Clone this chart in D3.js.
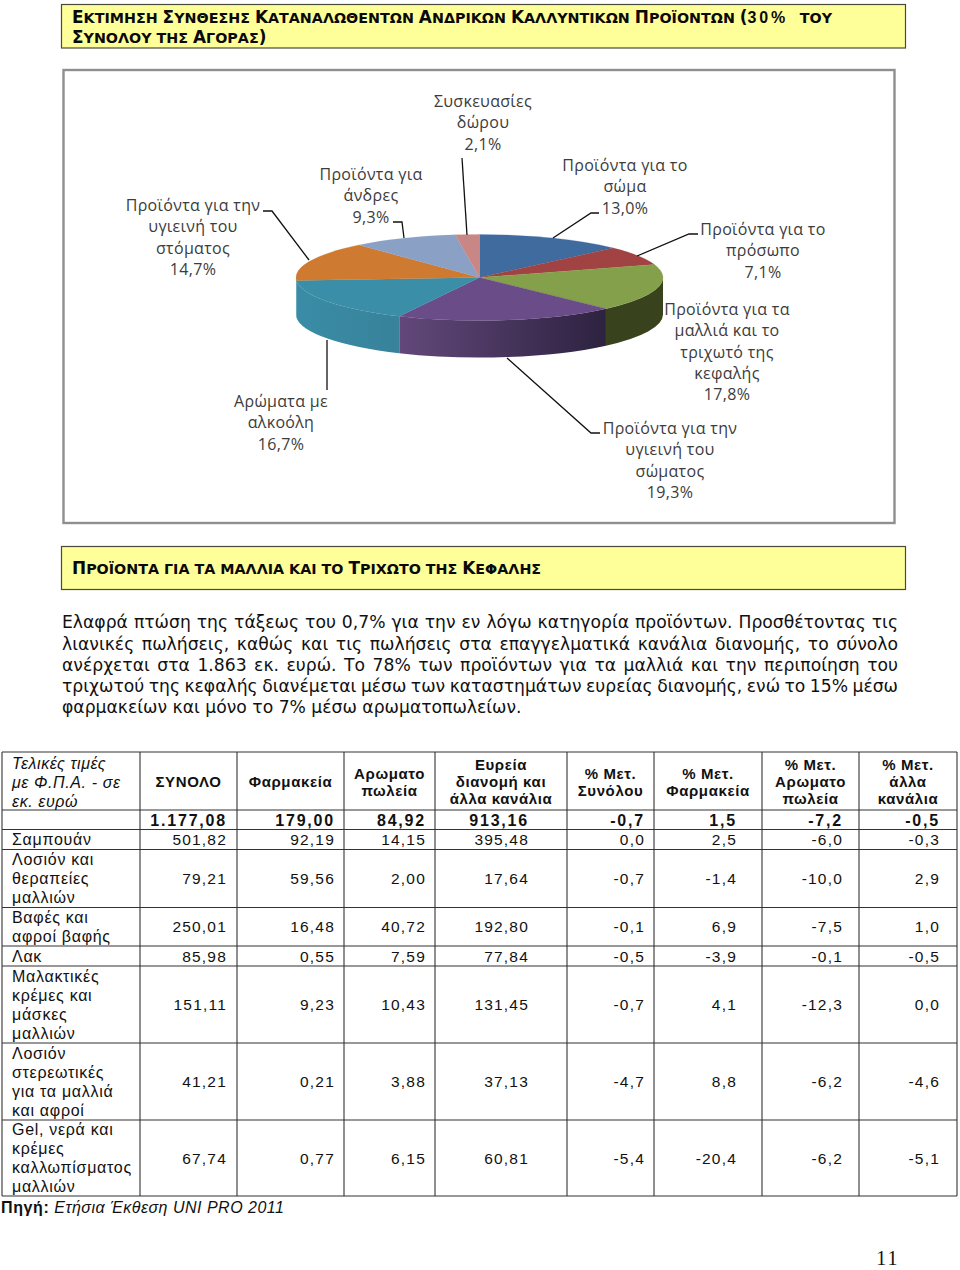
<!DOCTYPE html>
<html><head><meta charset="utf-8">
<script src="https://cdn.jsdelivr.net/npm/d3@7/dist/d3.min.js"></script>
<style>html,body{margin:0;padding:0;background:#fff}svg{display:block}</style></head>
<body><div id="c"></div>
<script>
// ---------- data ----------
const sliceNames = ["Προϊόντα για το σώμα","Προϊόντα για το πρόσωπο","Προϊόντα για τα μαλλιά και το τριχωτό της κεφαλής","Προϊόντα για την υγιεινή του σώματος","Αρώματα με αλκοόλη","Προϊόντα για την υγιεινή του στόματος","Προϊόντα για άνδρες","Συσκευασίες δώρου"];
const sliceValues = [13.0,7.1,17.8,19.3,16.7,14.7,9.3,2.1];
const sliceLabelLines = [
 ["Προϊόντα για το","σώμα","13,0%"],
 ["Προϊόντα για το","πρόσωπο","7,1%"],
 ["Προϊόντα για τα","μαλλιά και το","τριχωτό της","κεφαλής","17,8%"],
 ["Προϊόντα για την","υγιεινή του","σώματος","19,3%"],
 ["Αρώματα με","αλκοόλη","16,7%"],
 ["Προϊόντα για την","υγιεινή του","στόματος","14,7%"],
 ["Προϊόντα για","άνδρες","9,3%"],
 ["Συσκευασίες","δώρου","2,1%"]];
const title1 = [["Ε",1],["ΚΤΙΜΗΣΗ ",0],["Σ",1],["ΥΝΘΕΣΗΣ ",0],["Κ",1],["ΑΤΑΝΑΛΩΘΕΝΤΩΝ ",0],["Α",1],["ΝΔΡΙΚΩΝ ",0],["Κ",1],["ΑΛΛΥΝΤΙΚΩΝ ",0],["Π",1],["ΡΟΪΟΝΤΩΝ ",0],["(",1],["30%",2],["  ",1],["ΤΟΥ",0]];
const title2 = [["Σ",1],["ΥΝΟΛΟΥ ΤΗΣ ",0],["Α",1],["ΓΟΡΑΣ",0],[")",1]];
const title3 = [["Π",1],["ΡΟΪΟΝΤΑ ΓΙΑ ΤΑ ΜΑΛΛΙΑ ΚΑΙ ΤΟ ",0],["Τ",1],["ΡΙΧΩΤΟ ΤΗΣ ",0],["Κ",1],["ΕΦΑΛΗΣ",0]];
const bodyLines = [
 "Ελαφρά πτώση της τάξεως του 0,7% για την εν λόγω κατηγορία προϊόντων. Προσθέτοντας τις",
 "λιανικές πωλήσεις, καθώς και τις πωλήσεις στα επαγγελματικά κανάλια διανομής, το σύνολο",
 "ανέρχεται στα 1.863 εκ. ευρώ. Το 78% των προϊόντων για τα μαλλιά και την περιποίηση του",
 "τριχωτού της κεφαλής διανέμεται μέσω των καταστημάτων ευρείας διανομής, ενώ το 15% μέσω",
 "φαρμακείων και μόνο το 7% μέσω αρωματοπωλείων."];
const headCorner = ["Τελικές τιμές","με Φ.Π.Α. - σε","εκ. ευρώ"];
const headCols = [["ΣΥΝΟΛΟ"],["Φαρμακεία"],["Αρωματο","πωλεία"],["Ευρεία","διανομή και","άλλα κανάλια"],["% Μετ.","Συνόλου"],["% Μετ.","Φαρμακεία"],["% Μετ.","Αρωματο","πωλεία"],["% Μετ.","άλλα","κανάλια"]];
const totalRow = ["1.177,08","179,00","84,92","913,16","-0,7","1,5","-7,2","-0,5"];
const rowNames = [["Σαμπουάν"],["Λοσιόν και","θεραπείες","μαλλιών"],["Βαφές και","αφροί βαφής"],["Λακ"],["Μαλακτικές","κρέμες και","μάσκες","μαλλιών"],["Λοσιόν","στερεωτικές","για τα μαλλιά","και αφροί"],["Gel, νερά και","κρέμες","καλλωπίσματος","μαλλιών"]];
const rowValues = [
 ["501,82","92,19","14,15","395,48","0,0","2,5","-6,0","-0,3"],
 ["79,21","59,56","2,00","17,64","-0,7","-1,4","-10,0","2,9"],
 ["250,01","16,48","40,72","192,80","-0,1","6,9","-7,5","1,0"],
 ["85,98","0,55","7,59","77,84","-0,5","-3,9","-0,1","-0,5"],
 ["151,11","9,23","10,43","131,45","-0,7","4,1","-12,3","0,0"],
 ["41,21","0,21","3,88","37,13","-4,7","8,8","-6,2","-4,6"],
 ["67,74","0,77","6,15","60,81","-5,4","-20,4","-6,2","-5,1"]];

// ---------- styling & layout ----------
const topColors = ["#3f6b9f","#a04342","#84a04a","#6a4c89","#3b8ea7","#ce7a30","#8aa1c5","#c88684"];
const wallColors = [null,null,["#38431e","#38431e"],["#62487a","#2d2240"],["#3a8ca6","#38829b"],["#3a8ca6","#3a8ca6"],null,null];
const W=960,H=1270;
const pie3d={cx:479.5,cy:277.5,rx:183.5,ry:43,depth:37};
const labelAnchors=[[625,171],[763,235],[727,315],[670,434],[281,407],[193,211],[371,180],[483,107]];
const leaders=[
 [[599,213],[591,213],[553,238]],
 [[698,234],[689,234],[637,256]],
 [],
 [[600,433],[591,433],[507,358]],
 [[327,340],[327,390]],
 [[263,211],[272,211],[309,260]],
 [[393,222],[402,222],[404,238]],
 [[462,158],[467,235]]];
const colX=[2,140,237,344,435,567,654,762,859,957];
const rowY=[752,810,829.5,849.5,907.5,946,966,1043,1120,1196];
const numRight=[227,335,426,529,645,737,843,940];
const serif='"Liberation Serif",serif', sans='"Liberation Sans",Arial,sans-serif', verd='"DejaVu Sans",Verdana,sans-serif', chartFont='"Open Sans",sans-serif';

const svg=d3.select("#c").append("svg").attr("width",W).attr("height",H).attr("viewBox",`0 0 ${W} ${H}`);
svg.append("rect").attr("width",W).attr("height",H).attr("fill","#fff");
const defs=svg.append("defs");

function banner(x0,y0,x1,y1){svg.append("rect").attr("x",x0).attr("y",y0).attr("width",x1-x0).attr("height",y1-y0).attr("fill","#ffff99").attr("stroke","#4a4a3a").attr("stroke-width",1.2);}
function caps(segs,x,y){
  const t=svg.append("text").attr("x",x).attr("y",y).attr("font-family",verd).attr("font-weight","bold").attr("fill","#0a0a0a").style("white-space","pre");
  t.selectAll("tspan").data(segs).join("tspan")
   .attr("font-size",d=>d[1]===2?16:(d[1]?16.9:14.3))
   .attr("font-family",d=>d[1]===2?sans:verd)
   .attr("letter-spacing",d=>d[1]===2?2.8:0)
   .text(d=>d[0]);
}
banner(61.5,4.5,905.5,48);
caps(title1,72,23); caps(title2,72,43);
banner(61.5,546.5,905.5,589.5);
caps(title3,72,574);

// chart frame
svg.append("rect").attr("x",63.5).attr("y",70).attr("width",831).attr("height",453).attr("fill","#fff").attr("stroke","#8f8f8f").attr("stroke-width",2.4);

// 3D pie
const angleOf=d3.pie().sort(null).value(d=>d)(sliceValues);
const px=a=>pie3d.cx+pie3d.rx*Math.sin(a), py=a=>pie3d.cy-pie3d.ry*Math.cos(a);
const walls=svg.append("g");
angleOf.forEach((s,i)=>{
  const a0=Math.max(s.startAngle,Math.PI/2), a1=Math.min(s.endAngle,3*Math.PI/2);
  if(a1<=a0||!wallColors[i])return;
  const id="w"+i;
  const xs=[px(a0),px(a1)];
  const g=defs.append("linearGradient").attr("id",id).attr("gradientUnits","userSpaceOnUse").attr("x1",d3.min(xs)).attr("x2",d3.max(xs)).attr("y1",0).attr("y2",0);
  g.append("stop").attr("offset",0).attr("stop-color",wallColors[i][0]);
  g.append("stop").attr("offset",1).attr("stop-color",wallColors[i][1]);
  const dp=`M${px(a0)},${py(a0)}A${pie3d.rx},${pie3d.ry} 0 0 1 ${px(a1)},${py(a1)}L${px(a1)},${py(a1)+pie3d.depth}A${pie3d.rx},${pie3d.ry} 0 0 0 ${px(a0)},${py(a0)+pie3d.depth}Z`;
  walls.append("path").attr("d",dp).attr("fill",`url(#${id})`);
});
const arc=d3.arc().innerRadius(0).outerRadius(pie3d.rx);
svg.append("g").attr("transform",`translate(${pie3d.cx},${pie3d.cy}) scale(1,${pie3d.ry/pie3d.rx})`)
  .selectAll("path").data(angleOf).join("path").attr("d",arc).attr("fill",(d,i)=>topColors[i]).attr("stroke",(d,i)=>topColors[i]).attr("stroke-width",0.4);

// leaders
svg.append("g").selectAll("path").data(leaders.filter(l=>l.length)).join("path")
  .attr("d",d3.line()).attr("fill","none").attr("stroke","#111").attr("stroke-width",1.3);
// slice labels
sliceLabelLines.forEach((lines,i)=>{
  const g=svg.append("g");
  g.selectAll("text").data(lines).join("text")
   .attr("x",labelAnchors[i][0]).attr("y",(d,j)=>labelAnchors[i][1]+j*21.3)
   .attr("text-anchor","middle").attr("font-family",chartFont).attr("font-size",16).attr("letter-spacing",0.3).attr("fill","#3c3c3c").text(d=>d);
});

// body text
const bodyY=[628,650,671,692,713];
bodyLines.forEach((l,i)=>{
  const t=svg.append("text").attr("x",62).attr("y",bodyY[i]).attr("font-family",verd).attr("font-size",17.2).attr("fill","#111").text(l);
  if(i<bodyLines.length-1){
    const len=t.node().getComputedTextLength(), n=l.split(" ").length-1;
    t.attr("word-spacing",(898-62-len)/n);
  }
});

// table grid
const grid=svg.append("g").attr("stroke","#333").attr("stroke-width",1.1);
rowY.forEach(y=>grid.append("line").attr("x1",colX[0]).attr("x2",colX[9]).attr("y1",y).attr("y2",y));
colX.forEach(x=>grid.append("line").attr("x1",x).attr("x2",x).attr("y1",rowY[0]).attr("y2",rowY[9]));
// header
svg.append("g").selectAll("text").data(headCorner).join("text").attr("x",12).attr("y",(d,i)=>769+i*19)
  .attr("font-family",sans).attr("font-style","italic").attr("font-size",16).attr("letter-spacing",0.6).attr("fill","#111").text(d=>d);
headCols.forEach((lines,c)=>{
  const cx=(colX[c+1]+colX[c+2])/2, top=787-(lines.length-1)*17/2;
  svg.append("g").selectAll("text").data(lines).join("text").attr("x",cx).attr("y",(d,i)=>top+i*17)
   .attr("text-anchor","middle").attr("font-family",sans).attr("font-weight","bold").attr("font-size",15).attr("letter-spacing",0.6).attr("fill","#111").text(d=>d);
});
// numbers
function numRow(vals,cy,bold){
  vals.forEach((v,c)=>{
    svg.append("text").attr("x",numRight[c]).attr("y",cy+5.5).attr("text-anchor","end").attr("font-family",sans)
     .attr("font-weight",bold?"bold":"normal").attr("font-size",bold?16:15.5).attr("letter-spacing",bold?1.8:1.2).attr("fill","#111").text(v);
  });
}
numRow(totalRow,820.5,true);
rowValues.forEach((vals,r)=>{
  const y0=rowY[r+2],y1=rowY[r+3],cy=(y0+y1)/2;
  numRow(vals,cy,false);
  const n=rowNames[r];
  svg.append("g").selectAll("text").data(n).join("text").attr("x",12).attr("y",(d,i)=>cy+5.5-(n.length-1)*19/2+i*19)
   .attr("font-family",sans).attr("font-size",16).attr("letter-spacing",0.7).attr("fill","#111").text(d=>d);
});
// source
const src=svg.append("text").attr("x",1).attr("y",1213).attr("font-family",sans).attr("font-size",16).attr("fill","#111");
src.append("tspan").attr("font-weight","bold").attr("letter-spacing",0.6).text("Πηγή:");
src.append("tspan").attr("font-style","italic").attr("dx",5).attr("letter-spacing",0.5).text("Ετήσια Έκθεση UNI PRO 2011");
// page no
svg.append("text").attr("x",888).attr("y",1265).attr("text-anchor","middle").attr("font-family",serif).attr("font-size",20).attr("letter-spacing",2).attr("fill","#111").text("11");
</script></body></html>
